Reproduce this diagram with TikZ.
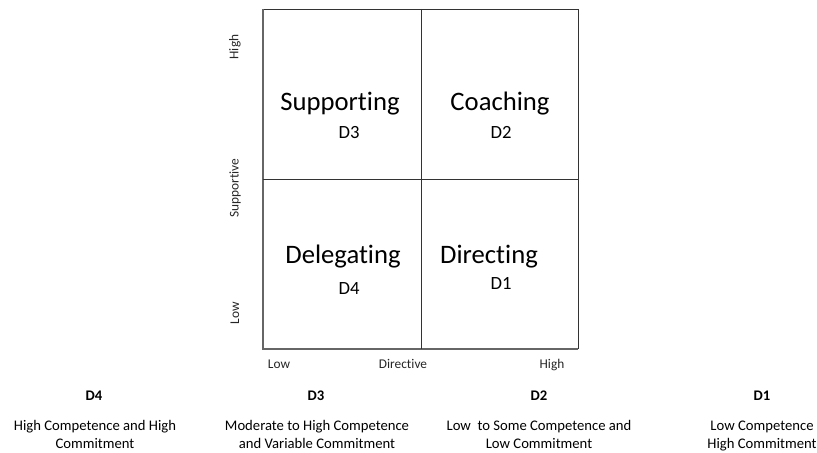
\documentclass[tikz,border=0pt]{standalone}
\usepackage{fontspec}
\setmainfont{Carlito}[Ligatures=NoCommon]
\usepackage{tikz}

\begin{document}
\begin{tikzpicture}[x=0.75pt, y=-0.75pt,
			quad/.style={anchor=base, font=\fontsize{20}{24}\selectfont},
			code/.style={anchor=base, font=\fontsize{14}{17}\selectfont},
			axis/.style={font=\fontsize{10}{12}\selectfont, text=black!85},
			lvl/.style={anchor=base, font=\fontsize{11}{13}\selectfont\bfseries},
			desc/.style={font=\fontsize{11}{13.5}\selectfont, align=center}]
			\useasboundingbox (0, 0) rectangle (817, 453);
			\coordinate (NW) at (263, 9);
			\coordinate (NE) at (578, 9);
			\coordinate (SW) at (263, 349);
			\coordinate (SE) at (578, 349);
			\coordinate (MT) at (421, 9);
			\coordinate (MB) at (421, 349);
			\coordinate (ML) at (263, 179.5);
			\coordinate (MR) at (578, 179.5);
			\draw[line width=0.6pt, black!80] (NW) -- (NE) -- (SE);
			\draw[line width=1pt, black!60] (NW) -- (SW) -- (SE);
			\draw[line width=0.6pt, black!80] (MT) -- (MB);
			\draw[line width=0.6pt, black!80] (ML) -- (MR);
			\node[quad] (SUP) at (340, 110) {Supporting};
			\node[code] (SUPD) at (349, 138) {D3};
			\node[quad] (COA) at (500, 110) {Coaching};
			\node[code] (COAD) at (501, 138) {D2};
			\node[quad] (DEL) at (343, 263) {Delegating};
			\node[code] (DELD) at (349, 294) {D4};
			\node[quad] (DIR) at (489, 263) {Directing};
			\node[code] (DIRD) at (501, 289) {D1};
			\node[axis, rotate=90] (YHI) at (235, 47) {High};
			\node[axis, rotate=90] (YLAB) at (235, 188) {Supportive};
			\node[axis, rotate=90] (YLO) at (235, 313) {Low};
			\node[axis, anchor=base] (XLO) at (279, 368) {Low};
			\node[axis, anchor=base] (XLAB) at (403, 368) {Directive};
			\node[axis, anchor=base] (XHI) at (552, 368) {High};
			\node[lvl] (L4) at (94, 400) {D4};
			\node[lvl] (L3) at (316, 400) {D3};
			\node[lvl] (L2) at (539, 400) {D2};
			\node[lvl] (L1) at (762, 400) {D1};
			\node[desc] (T4) at (95, 436) {High Competence and High\strut\\Commitment\strut};
			\node[desc] (T3) at (317, 436) {Moderate to High Competence\strut\\and Variable Commitment\strut};
			\node[desc] (T2) at (539, 436) {Low\ \ to Some Competence and\strut\\Low Commitment\strut};
			\node[desc] (T1) at (762, 436) {Low Competence\strut\\High Commitment\strut};
		\end{tikzpicture}
\end{document}
